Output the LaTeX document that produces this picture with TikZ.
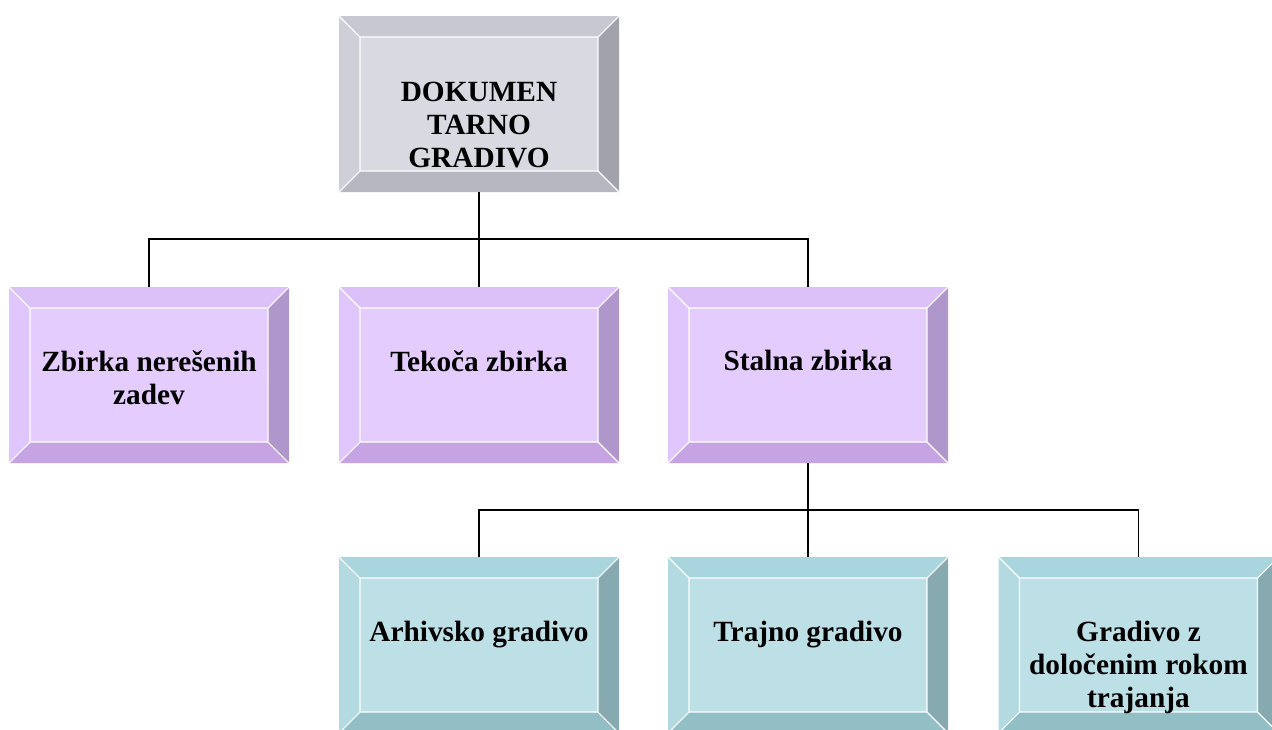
\documentclass[tikz,border=0pt]{standalone}
\usepackage{fontspec}
\setmainfont{Liberation Serif}
\usetikzlibrary{positioning}

\definecolor{gFace}{HTML}{D9D9E1}
\definecolor{gTop}{HTML}{C8C8D2}
\definecolor{gLeft}{HTML}{CFCFD8}
\definecolor{gRight}{HTML}{A2A2AD}
\definecolor{gBot}{HTML}{B7B7C2}
\definecolor{vFace}{HTML}{E5CCFF}
\definecolor{vTop}{HTML}{DCC1F9}
\definecolor{vLeft}{HTML}{DFC6FC}
\definecolor{vRight}{HTML}{AF96CB}
\definecolor{vBot}{HTML}{C6A4E3}
\definecolor{cFace}{HTML}{BDDFE6}
\definecolor{cTop}{HTML}{A9D6DE}
\definecolor{cLeft}{HTML}{B3DAE1}
\definecolor{cRight}{HTML}{86AAB0}
\definecolor{cBot}{HTML}{92BEC6}

\def\bevw{15.75pt}

\tikzset{
  bevelbox/.style n args={5}{rectangle, minimum width=210pt, minimum height=132pt,
    inner sep=0pt, path picture={
      \coordinate (bl) at (path picture bounding box.south west);
      \coordinate (tr) at (path picture bounding box.north east);
      \coordinate (tl) at (bl |- tr);
      \coordinate (br) at (bl -| tr);
      \coordinate (ibl) at ([shift={(\bevw,\bevw)}]bl);
      \coordinate (itr) at ([shift={(-\bevw,-\bevw)}]tr);
      \coordinate (itl) at ([shift={(\bevw,-\bevw)}]tl);
      \coordinate (ibr) at ([shift={(-\bevw,\bevw)}]br);
      \fill[#1] (bl) rectangle (tr);
      \fill[#2] (tl) -- (tr) -- (itr) -- (itl) -- cycle;
      \fill[#3] (tl) -- (itl) -- (ibl) -- (bl) -- cycle;
      \fill[#4] (tr) -- (br) -- (ibr) -- (itr) -- cycle;
      \fill[#5] (bl) -- (ibl) -- (ibr) -- (br) -- cycle;
      \draw[white, line width=0.8pt] (itl) rectangle (ibr)
        (tl) -- (itl) (tr) -- (itr) (bl) -- (ibl) (br) -- (ibr);
    }},
  graybox/.style={bevelbox={gFace}{gTop}{gLeft}{gRight}{gBot}},
  lilabox/.style={bevelbox={vFace}{vTop}{vLeft}{vRight}{vBot}},
  cyanbox/.style={bevelbox={cFace}{cTop}{cLeft}{cRight}{cBot}},
  boxtext/.style={inner sep=0pt, anchor=north, align=center,
    font=\bfseries\fontsize{22}{24.75}\selectfont},
  link/.style={draw=black, line width=1.4pt}
}

\begin{document}
\begin{tikzpicture}[x=0.75pt, y=-0.75pt]
  \useasboundingbox (0,0) rectangle (1272,729);
  \clip (0,0) rectangle (1272,729);

  % boxes
  \node[graybox] (dok) at (479,104) {};
  \node[lilabox] (nere) at (149,375) {};
  \node[lilabox] (teko) at (479,375) {};
  \node[lilabox] (stal) at (808,375) {};
  \node[cyanbox] (arhi) at (479,645) {};
  \node[cyanbox] (traj) at (808,645) {};
  \node[cyanbox] (roki) at (1138.5,645) {};

  % texts
  \node[boxtext, below=49.5pt of dok.north] (dok-t) {DOKUMEN\\TARNO\\GRADIVO};
  \node[boxtext, below=47.5pt of nere.north] (nere-t) {Zbirka nerešenih\\zadev};
  \node[boxtext, below=47.5pt of teko.north] (teko-t) {Tekoča zbirka};
  \node[boxtext, below=47.5pt of stal.north] (stal-t) {Stalna zbirka};
  \node[boxtext, below=48pt of arhi.north] (arhi-t) {Arhivsko gradivo};
  \node[boxtext, below=48pt of traj.north] (traj-t) {Trajno gradivo};
  \node[boxtext, below=48pt of roki.north] (roki-t) {Gradivo z\\določenim rokom\\trajanja};

  % connectors
  \coordinate (j1) at ([yshift=-35.25pt]dok.south);
  \coordinate (j2) at ([yshift=-35.25pt]stal.south);
  \path[link] (dok.south) -- (j1);
  \path[link] (j1) -| (nere.north);
  \path[link] (j1) -- (teko.north);
  \path[link] (j1) -| (stal.north);
  \path[link] (stal.south) -- (j2);
  \path[link] (j2) -| (arhi.north);
  \path[link] (j2) -- (traj.north);
  \path[link] (j2) -| (roki.north);
\end{tikzpicture}
\end{document}
